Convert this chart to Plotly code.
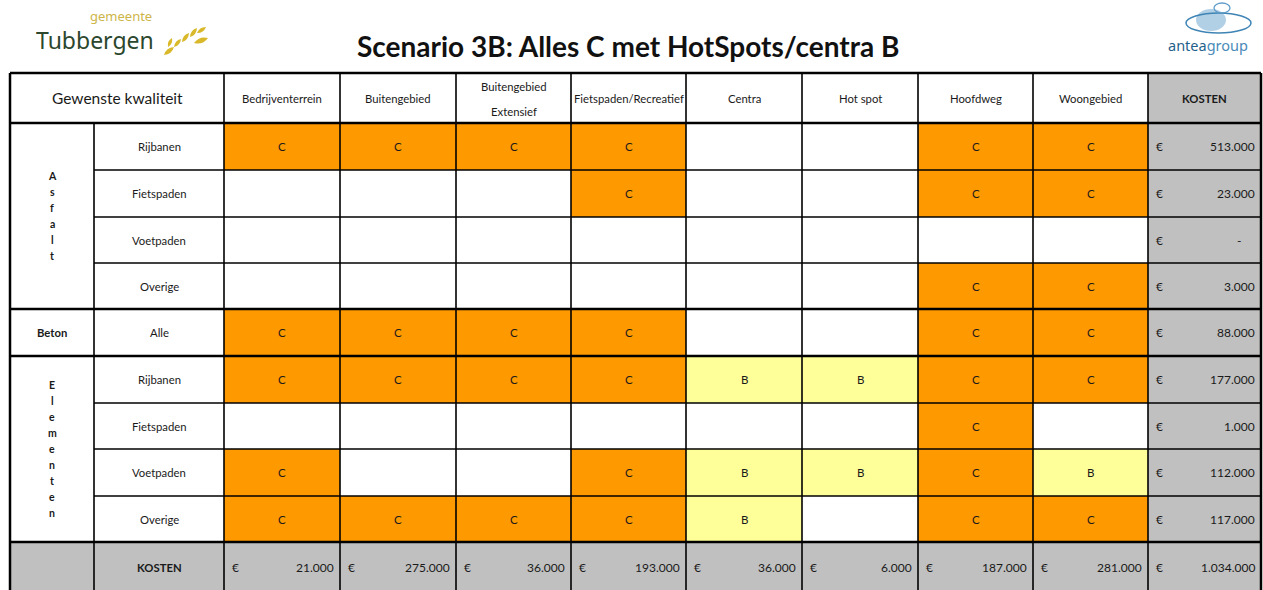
import plotly.graph_objects as go

# ---------------- data ----------------
title = "Scenario 3B: Alles C met HotSpots/centra B"
corner_label = "Gewenste kwaliteit"
columns = ["Bedrijventerrein", "Buitengebied", "Buitengebied\nExtensief",
           "Fietspaden/Recreatief", "Centra", "Hot spot", "Hoofdweg", "Woongebied"]
cost_header = "KOSTEN"
groups = ["Asfalt", "Beton", "Elementen"]
group_sizes = [4, 1, 4]
row_labels = ["Rijbanen", "Fietspaden", "Voetpaden", "Overige",
              "Alle",
              "Rijbanen", "Fietspaden", "Voetpaden", "Overige"]
grades = [
    ["C", "C", "C", "C", "", "", "C", "C"],
    ["", "", "", "C", "", "", "C", "C"],
    ["", "", "", "", "", "", "", ""],
    ["", "", "", "", "", "", "C", "C"],
    ["C", "C", "C", "C", "", "", "C", "C"],
    ["C", "C", "C", "C", "B", "B", "C", "C"],
    ["", "", "", "", "", "", "C", ""],
    ["C", "", "", "C", "B", "B", "C", "B"],
    ["C", "C", "C", "C", "B", "", "C", "C"],
]
row_costs = ["513.000", "23.000", "-", "3.000", "88.000", "177.000", "1.000", "112.000", "117.000"]
col_costs = ["21.000", "275.000", "36.000", "193.000", "36.000", "6.000", "187.000", "281.000"]
total_cost = "1.034.000"

# ---------------- layout / style ----------------
W, H = 1263, 590
x_edges = [10, 94, 224, 340, 456, 571, 686, 802, 918, 1033, 1148, 1261]
y_edges = [73, 123, 170, 217, 263, 309, 356, 403, 449, 496, 542, 592]
grade_colors = {"C": "#FF9900", "B": "#FFFF99", "": "#FFFFFF"}
GRAY = "#C0C0C0"
FONT = "Lato, Open Sans, sans-serif"
TXT = "#1a1a1a"

shapes = []
annotations = []

def rect(x0, x1, y0, y1, color):
    shapes.append(dict(type="rect", xref="x", yref="y", x0=x0, x1=x1, y0=y0, y1=y1,
                       fillcolor=color, line=dict(width=0), layer="below"))

def line(x0, y0, x1, y1, w):
    shapes.append(dict(type="line", xref="x", yref="y", x0=x0, x1=x1, y0=y0, y1=y1,
                       line=dict(color="black", width=w)))

def text(x, y, t, size=11, bold=False, color=TXT, xanchor="center", family=FONT):
    if bold:
        t = "<b>" + t + "</b>"
    annotations.append(dict(x=x, y=y, xref="x", yref="y", text=t, showarrow=False,
                            xanchor=xanchor, yanchor="middle",
                            font=dict(size=size, color=color, family=family)))

def cx(i):
    return (x_edges[i] + x_edges[i + 1]) / 2

def cy(j):
    return (y_edges[j] + y_edges[j + 1]) / 2

def money(x_left, x_right, y, value):
    text(x_left + 6, y, "€", size=12, xanchor="left")
    pad = 18 if value == "-" else 4
    text(x_right - pad, y, value, size=12, xanchor="right")

# cell fills
n_rows = len(row_labels)
for r in range(n_rows):
    for c in range(len(columns)):
        g = grades[r][c]
        rect(x_edges[c + 2], x_edges[c + 3], y_edges[r + 1], y_edges[r + 2], grade_colors[g])
# KOSTEN column
rect(x_edges[10], x_edges[11], y_edges[0], y_edges[-1], GRAY)
# KOSTEN row
rect(x_edges[0], x_edges[11], y_edges[-2], y_edges[-1], GRAY)

HS = 11.3  # header / label font size
# header texts
text((x_edges[0] + x_edges[2]) / 2, cy(0), corner_label, size=15.5)
for c, name in enumerate(columns):
    parts = name.split("\n")
    if len(parts) == 1:
        text(cx(c + 2), cy(0), name, size=HS)
    else:
        text(cx(c + 2), cy(0) - 12, parts[0], size=HS)
        text(cx(c + 2), cy(0) + 13, parts[1], size=HS)
text(cx(10), cy(0), cost_header, size=HS, bold=True)

# group labels (vertical stacked letters)
start = 1
for gname, gsize in zip(groups, group_sizes):
    y0 = y_edges[start]
    y1 = y_edges[start + gsize]
    mid = (y0 + y1) / 2
    if gsize == 1:
        text(cx(0), mid, gname, size=HS, bold=True)
    else:
        n = len(gname)
        step = 16
        for k, ch in enumerate(gname):
            text(cx(0), mid + (k - (n - 1) / 2) * step, ch, size=10.5, bold=True)
    start += gsize

# row labels, grades, costs
for r in range(n_rows):
    text(cx(1), cy(r + 1), row_labels[r], size=HS)
    for c in range(len(columns)):
        if grades[r][c]:
            text(cx(c + 2), cy(r + 1), grades[r][c], size=11.5)
    money(x_edges[10], x_edges[11], cy(r + 1), row_costs[r])

# bottom KOSTEN row
last = len(y_edges) - 2
text(cx(1), cy(last), cost_header, size=HS, bold=True)
for c, v in enumerate(col_costs):
    money(x_edges[c + 2], x_edges[c + 3], cy(last), v)
money(x_edges[10], x_edges[11], cy(last), total_cost)

# grid lines
thick_rows = {0, 1, 5, 6, 10}
group_inner = set()
start = 1
for gsize in group_sizes:
    for k in range(1, gsize):
        group_inner.add(start + k)
    start += gsize
for j, y in enumerate(y_edges[:-1]):
    w = 2.5 if j in thick_rows else 1.3
    x0 = x_edges[1] if j in group_inner else x_edges[0]
    line(x0, y, x_edges[-1], y, w)
for i, x in enumerate(x_edges):
    w = 2.5 if i in (0, len(x_edges) - 1) else 1.6
    ytop = y_edges[1] if i == 1 else y_edges[0]
    line(x, ytop, x, y_edges[-1], w)

# ---------------- title & logos ----------------
annotations.append(dict(x=628, y=46, xref="x", yref="y", text="<b>" + title + "</b>",
                        showarrow=False, xanchor="center", yanchor="middle",
                        font=dict(size=28, color="#111111", family=FONT)))
# Tubbergen logo
annotations.append(dict(x=121, y=16, xref="x", yref="y", text="gemeente", showarrow=False,
                        xanchor="center", yanchor="middle", borderpad=0,
                        font=dict(size=13, color="#CDB548", family="Noto Sans, sans-serif")))
annotations.append(dict(x=95, y=40, xref="x", yref="y", text="Tubbergen", showarrow=False,
                        xanchor="center", yanchor="middle", borderpad=0,
                        font=dict(size=23, color="#2B472D", family="Noto Sans, sans-serif")))
leaf_color = "#D9B92A"
leaves = [(164, 55, 174, 47), (174, 47, 181, 39), (182, 42, 189, 33), (190, 37, 197, 28),
          (197, 33, 206, 27), (194, 43, 208, 38), (168, 47, 172, 38)]
for (a, b, c, d) in leaves:
    mx, my = (a + c) / 2, (b + d) / 2
    dx, dy = c - a, d - b
    px, py = -dy * 0.35, dx * 0.35
    path = (f"M {a},{b} Q {mx + px},{my + py} {c},{d} "
            f"Q {mx - px},{my - py} {a},{b} Z")
    shapes.append(dict(type="path", xref="x", yref="y", path=path,
                       fillcolor=leaf_color, line=dict(width=0)))
# antea group logo
shapes.append(dict(type="circle", xref="x", yref="y", x0=1196, x1=1226, y0=9, y1=31,
                   fillcolor="#A9CBE3", line=dict(width=0), opacity=0.9))
shapes.append(dict(type="circle", xref="x", yref="y", x0=1186, x1=1251, y0=13, y1=33,
                   fillcolor="rgba(0,0,0,0)", line=dict(color="#3E84B4", width=1.5)))
shapes.append(dict(type="circle", xref="x", yref="y", x0=1214, x1=1230, y0=3, y1=13,
                   fillcolor="rgba(0,0,0,0)", line=dict(color="#5F9CC8", width=1.3)))
annotations.append(dict(x=1208, y=45, xref="x", yref="y",
                        text="<span style='color:#1F5F8B'>antea</span><span style='color:#4A8AB8'>group</span>",
                        showarrow=False, xanchor="center", yanchor="middle",
                        font=dict(size=14.5, family="Noto Sans, sans-serif")))

fig = go.Figure()
fig.add_trace(go.Scatter(x=[0, W], y=[0, H], mode="markers", marker=dict(opacity=0),
                         hoverinfo="skip", showlegend=False))
fig.update_layout(
    width=W, height=H, margin=dict(l=0, r=0, t=0, b=0),
    paper_bgcolor="white", plot_bgcolor="white",
    xaxis=dict(range=[0, W], visible=False, fixedrange=True),
    yaxis=dict(range=[H, 0], visible=False, fixedrange=True),
    shapes=shapes, annotations=annotations, showlegend=False,
)
fig.write_html("out.html", config=dict(displayModeBar=False),
               post_script="document.body.style.margin='0';document.body.style.overflow='hidden';")
